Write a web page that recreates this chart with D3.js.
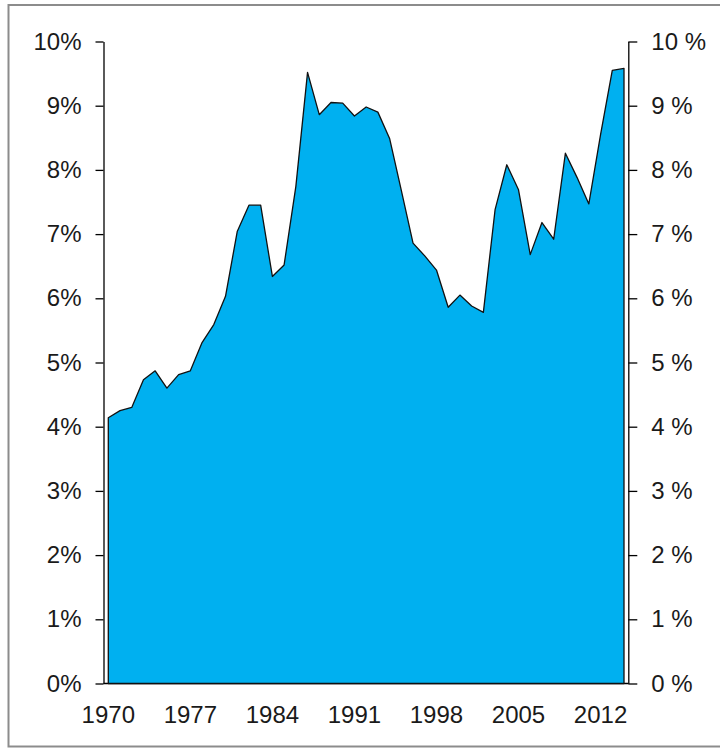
<!DOCTYPE html>
<meta charset="utf-8">
<style>
body { margin: 0; background: #fff; }
svg { display: block; font-family: "Liberation Sans", Arial, sans-serif; }
.axis path, .axis line { stroke: #000; stroke-width: 1.3px; }
.axis text { fill: #1a1a1a; font-size: 24px; }
.area { fill: #00b0f0; stroke: #111; stroke-width: 1.3px; stroke-linejoin: round; }
</style>
<svg width="720" height="748"></svg>
<script src="https://d3js.org/d3.v7.min.js"></script>
<script>

var years = d3.range(1970, 2015);
var values = [4.14, 4.25, 4.30, 4.73, 4.87, 4.60, 4.81, 4.87, 5.31, 5.59,
  6.03, 7.04, 7.45, 7.45, 6.34, 6.52, 7.74, 9.52, 8.86, 9.05,
  9.04, 8.84, 8.98, 8.90, 8.49, 7.68, 6.86, 6.66, 6.44, 5.86,
  6.05, 5.88, 5.78, 7.38, 8.08, 7.69, 6.68, 7.18, 6.92, 8.26,
  7.88, 7.47, 8.55, 9.55, 9.58];
var yTicks = [0, 1, 2, 3, 4, 5, 6, 7, 8, 9, 10];
var xTickYears = [1970, 1977, 1984, 1991, 1998, 2005, 2012];

var svg = d3.select("svg");

// outer frame (grey, open on the right)
svg.append("rect")
  .attr("x", 8.5).attr("y", 5)
  .attr("width", 730).attr("height", 741.5)
  .attr("fill", "none")
  .attr("stroke", "#8c8c8c")
  .attr("stroke-width", 2);

var plotLeft = 103.5, plotRight = 628.3, plotTop = 41.5, plotBottom = 683.5;

var x = d3.scalePoint().domain(years).range([108.3, 624]);
var y = d3.scaleLinear().domain([0, 10]).range([plotBottom, plotTop]);

var data = years.map(function(yr, i) { return {year: yr, value: values[i]}; });

// x baseline
svg.append("line")
  .attr("x1", plotLeft).attr("x2", plotRight)
  .attr("y1", plotBottom).attr("y2", plotBottom)
  .attr("stroke", "#000").attr("stroke-width", 1.3);

var area = d3.area()
  .x(function(d) { return x(d.year); })
  .y0(y(0))
  .y1(function(d) { return y(d.value); });

svg.append("path")
  .datum(data)
  .attr("class", "area")
  .attr("d", area);

svg.append("g")
  .attr("class", "axis")
  .attr("transform", "translate(" + plotLeft + ",0)")
  .call(d3.axisLeft(y).tickValues(yTicks).tickSize(8).tickSizeOuter(0).tickPadding(14)
    .tickFormat(function(d) { return d + "%"; }));

svg.append("g")
  .attr("class", "axis")
  .attr("transform", "translate(" + plotRight + ",0)")
  .call(d3.axisRight(y).tickValues(yTicks).tickSize(9).tickSizeOuter(0).tickPadding(14)
    .tickFormat(function(d) { return d + " %"; }));

// year labels
svg.append("g")
  .attr("class", "axis")
  .selectAll("text")
  .data(xTickYears)
  .enter().append("text")
  .attr("x", function(d) { return x(d); })
  .attr("y", 723)
  .attr("text-anchor", "middle")
  .text(function(d) { return d; });

</script>
